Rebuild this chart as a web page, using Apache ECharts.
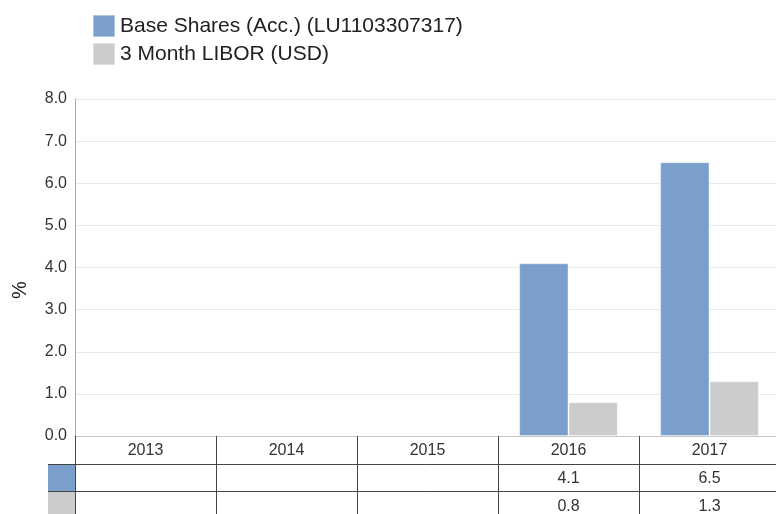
<!DOCTYPE html>
<html>
<head>
<meta charset="utf-8">
<script src="https://cdn.jsdelivr.net/npm/echarts@6/dist/echarts.min.js"></script>
<style>html,body{margin:0;padding:0;background:#fff;}#c{width:776px;height:514px;}</style>
</head>
<body>
<div id="c"></div>
<script>
var categories = ['2013', '2014', '2015', '2016', '2017'];
var seriesNames = ['Base Shares (Acc.) (LU1103307317)', '3 Month LIBOR (USD)'];
var baseShares = [null, null, null, 4.1, 6.5];
var libor = [null, null, null, 0.8, 1.3];
var yTicks = [0, 8, 1];
var colors = ['#7a9fcb', '#cccccc'];

var chart = echarts.init(document.getElementById('c'), null, {renderer: 'canvas'});
function fmt(arr) {
  return function (v, i) { var x = arr[i]; return (x === null || x === undefined) ? '' : x.toFixed(1); };
}
var font = 'Liberation Sans, Arial, sans-serif';
var option = {
  animation: false,
  color: colors,
  textStyle: {fontFamily: font},
  legend: {
    orient: 'vertical', left: 92, top: 14, padding: 0, itemWidth: 22, itemHeight: 22, itemGap: 4,
    icon: 'rect',
    textStyle: {fontSize: 21, lineHeight: 22, color: '#222', fontFamily: font},
    data: seriesNames
  },
  grid: {left: 75, width: 705, top: 99, bottom: 78, containLabel: false, outerBoundsMode: 'none'},
  xAxis: [
    {
      type: 'category', data: categories, position: 'bottom',
      axisLine: {show: true, lineStyle: {color: '#c8c8c8', width: 1}},
      axisTick: {show: true, length: 80, lineStyle: {color: '#444'}},
      axisLabel: {fontSize: 16, color: '#333', margin: 7, fontFamily: font},
      splitLine: {show: false}
    },
    {
      type: 'category', data: categories, position: 'bottom', offset: 28,
      axisLine: {show: true, lineStyle: {color: '#444', width: 1}},
      axisTick: {show: false},
      axisLabel: {fontSize: 16, color: '#333', margin: 7, formatter: fmt(baseShares), fontFamily: font}
    },
    {
      type: 'category', data: categories, position: 'bottom', offset: 55,
      axisLine: {show: true, lineStyle: {color: '#444', width: 1}},
      axisTick: {show: false},
      axisLabel: {fontSize: 16, color: '#333', margin: 8, formatter: fmt(libor), fontFamily: font}
    }
  ],
  yAxis: {
    type: 'value', min: yTicks[0], max: yTicks[1], interval: yTicks[2],
    axisLine: {show: true, lineStyle: {color: '#aaa'}},
    axisTick: {show: false},
    axisLabel: {fontSize: 16, color: '#333', margin: 8, formatter: function (v) { return v.toFixed(1); }, fontFamily: font},
    splitLine: {show: true, lineStyle: {color: '#e8e8e8'}}
  },
  graphic: [
    {type: 'rect', left: 48, top: 464, shape: {width: 27, height: 27}, style: {fill: colors[0]}},
    {type: 'rect', left: 48, top: 491, shape: {width: 27, height: 27}, style: {fill: colors[1]}},
    {type: 'line', shape: {x1: 48, y1: 464.5, x2: 75, y2: 464.5}, style: {stroke: '#444', lineWidth: 1}},
    {type: 'line', shape: {x1: 48, y1: 491.5, x2: 75, y2: 491.5}, style: {stroke: '#444', lineWidth: 1}},
    {type: 'text', x: 20, y: 290, rotation: Math.PI / 2,
     style: {text: '%', fontSize: 20, fill: '#222', font: '20px ' + font, align: 'center', verticalAlign: 'middle'}}
  ],
  series: [
    {name: seriesNames[0], type: 'bar', data: baseShares, barGap: '0%', barCategoryGap: '30%',
     itemStyle: {color: colors[0], borderColor: 'rgba(255,255,255,0.4)', borderWidth: 1}},
    {name: seriesNames[1], type: 'bar', data: libor, barGap: '0%', barCategoryGap: '30%',
     itemStyle: {color: colors[1], borderColor: 'rgba(255,255,255,0.4)', borderWidth: 1}}
  ]
};
chart.setOption(option);
</script>
</body>
</html>
